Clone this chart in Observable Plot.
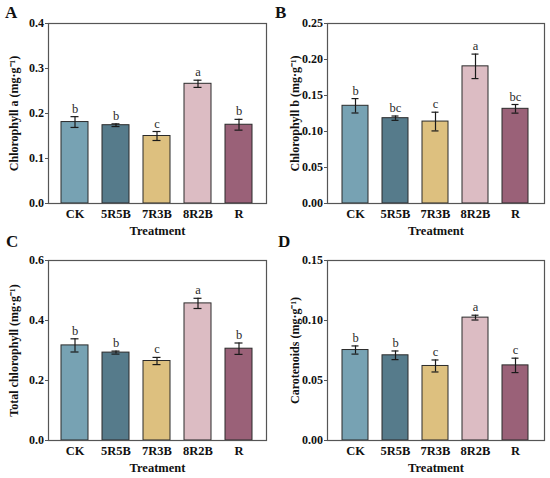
<!DOCTYPE html>
<html>
<head>
<meta charset="utf-8">
<script src="https://cdn.jsdelivr.net/npm/d3@7"></script>
<script src="https://cdn.jsdelivr.net/npm/@observablehq/plot@0.6"></script>
<style>
  html, body { margin: 0; padding: 0; background: #fff; }
  #wrap { position: relative; width: 550px; height: 478px; overflow: hidden; }
  .panel { position: absolute; }
  .tag { position: absolute; font-family: "Liberation Serif", serif; font-weight: bold; font-size: 17px; color: #111; }
</style>
</head>
<body>
<div id="wrap"></div>
<script>
const treatments = ["CK", "5R5B", "7R3B", "8R2B", "R"];
const barColors = ["#77a2b3", "#567b8b", "#ddc07f", "#dcbcc3", "#9a6178"];

const chlA = [0.181, 0.174, 0.150, 0.266, 0.175];
const chlAErr = [0.012, 0.003, 0.010, 0.008, 0.012];
const chlALetters = ["b", "b", "c", "a", "b"];

const chlB = [0.1357, 0.1185, 0.1138, 0.1905, 0.1315];
const chlBErr = [0.010, 0.003, 0.013, 0.017, 0.006];
const chlBLetters = ["b", "bc", "c", "a", "bc"];

const chlT = [0.317, 0.293, 0.265, 0.457, 0.306];
const chlTErr = [0.022, 0.005, 0.012, 0.017, 0.019];
const chlTLetters = ["b", "b", "c", "a", "b"];

const car = [0.0754, 0.0710, 0.0621, 0.1024, 0.0626];
const carErr = [0.0034, 0.0036, 0.0050, 0.0020, 0.0060];
const carLetters = ["b", "b", "c", "a", "c"];

const ticksA = [0, 0.1, 0.2, 0.3, 0.4];
const ticksB = [0, 0.05, 0.10, 0.15, 0.20, 0.25];
const ticksC = [0, 0.2, 0.4, 0.6];
const ticksD = [0, 0.05, 0.10, 0.15];

const FONT = "Liberation Serif, Times New Roman, serif";

function makeData(vals, errs, letters) {
  return treatments.map((t, i) => ({t, v: vals[i], e: errs[i], l: letters[i], c: barColors[i]}));
}

function panel({vals, errs, letters, ticks, digits, yLabel, marginLeft, marginRight, marginTop, height, labelOffset}) {
  const data = makeData(vals, errs, letters);
  return Plot.plot({
    width: 275,
    height,
    marginLeft,
    marginRight,
    marginTop,
    marginBottom: 36,
    style: {fontFamily: FONT, fontWeight: "bold", background: "white", color: "#111", overflow: "visible"},
    x: {domain: treatments, paddingInner: 0.34, paddingOuter: 0.32, label: null},
    y: {domain: [ticks[0], ticks[ticks.length - 1]], label: null},
    marks: [
      Plot.barY(data, {x: "t", y: "v", fill: "c", stroke: "#2b2b2b", strokeWidth: 1}),
      Plot.ruleX(data, {x: "t", y1: d => d.v - d.e, y2: d => d.v + d.e, stroke: "#1a1a1a", strokeWidth: 1.2}),
      Plot.tickY(data, {x: "t", y: d => d.v + d.e, inset: 9.5, stroke: "#1a1a1a", strokeWidth: 1.2}),
      Plot.tickY(data, {x: "t", y: d => d.v - d.e, inset: 9.5, stroke: "#1a1a1a", strokeWidth: 1.2}),
      Plot.text(data, {x: "t", y: d => d.v + d.e, text: "l", dy: -4, lineAnchor: "bottom", fontSize: 12.5, fontFamily: FONT, fontWeight: "normal", fill: "#2a2a2a"}),
      Plot.axisY({ticks, tickFormat: d3.format("." + digits + "f"), tickSize: 3, tickPadding: 1.5, fontSize: 12, fontFamily: FONT,
        label: yLabel, labelAnchor: "center", labelArrow: "none", labelOffset, stroke: "#555"}),
      Plot.axisX({tickSize: 0, tickPadding: 6, fontSize: 12.5, fontFamily: FONT,
        label: "Treatment", labelAnchor: "center", labelArrow: "none", labelOffset: 31}),
      Plot.frame({stroke: "#555", strokeWidth: 1.2})
    ]
  });
}

const wrap = document.getElementById("wrap");
function place(node, left, top) {
  const d = document.createElement("div");
  d.className = "panel";
  d.style.left = left + "px";
  d.style.top = top + "px";
  d.appendChild(node);
  wrap.appendChild(d);
}
function tag(txt, left, top) {
  const d = document.createElement("div");
  d.className = "tag";
  d.textContent = txt;
  d.style.left = left + "px";
  d.style.top = top + "px";
  wrap.appendChild(d);
}

place(panel({vals: chlA, errs: chlAErr, letters: chlALetters, ticks: ticksA, digits: 1,
  yLabel: "Chlorophyll a (mg·g⁻¹)", marginLeft: 48, marginRight: 9, marginTop: 23, height: 239, labelOffset: 39}), 0, 0);
place(panel({vals: chlB, errs: chlBErr, letters: chlBLetters, ticks: ticksB, digits: 2,
  yLabel: "Chlorophyll b (mg·g⁻¹)", marginLeft: 52, marginRight: 6, marginTop: 23, height: 239, labelOffset: 37}), 275, 0);
place(panel({vals: chlT, errs: chlTErr, letters: chlTLetters, ticks: ticksC, digits: 1,
  yLabel: "Total chlorophyll (mg·g⁻¹)", marginLeft: 48, marginRight: 9, marginTop: 22, height: 238, labelOffset: 39}), 0, 238);
place(panel({vals: car, errs: carErr, letters: carLetters, ticks: ticksD, digits: 2,
  yLabel: "Carotenoids (mg·g⁻¹)", marginLeft: 52, marginRight: 6, marginTop: 22, height: 238, labelOffset: 37}), 275, 238);

tag("A", 5, 3);
tag("B", 275, 3);
tag("C", 6, 232);
tag("D", 278, 232);
</script>
</body>
</html>
